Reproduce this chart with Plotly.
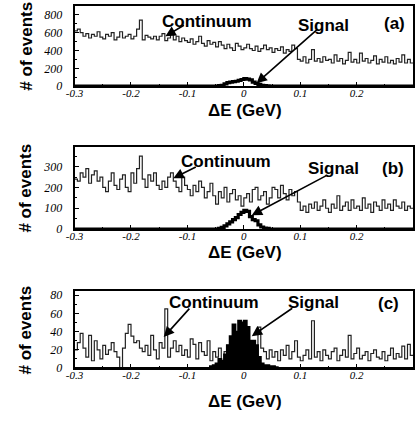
import numpy as np
import plotly.graph_objects as go

# ---------------- data ----------------
bin_start = -0.3
bin_width = 0.005

cont_a = [620, 640, 600, 560, 590, 540, 580, 560, 610, 550,
          530, 580, 560, 600, 520, 550, 610, 540, 560, 580,
          530, 560, 640, 740, 520, 570, 550, 530, 560, 520,
          560, 590, 510, 540, 580, 520, 560, 500, 540, 510,
          490, 530, 470, 500, 560, 480, 450, 510, 470, 490,
          440, 500, 460, 420, 470, 430, 400, 480, 450, 410,
          430, 470, 420, 400, 450, 390, 420, 460, 410, 430,
          380, 420, 400, 440, 370, 410, 390, 460, 420, 300,
          280, 330, 260, 300, 410, 280, 310, 270, 330, 290,
          300, 260, 350, 280, 310, 250, 290, 380, 270, 300,
          260, 370, 280, 310, 260, 290, 340, 250, 300, 270,
          330, 260, 290, 250, 310, 270, 350, 260, 300, 260]

cont_b = [240, 230, 270, 250, 290, 220, 260, 280, 230, 250,
          200, 180, 230, 270, 210, 190, 240, 260, 200, 180,
          270, 220, 290, 350, 240, 200, 260, 230, 270, 210,
          190, 230, 200, 250, 270, 230, 200, 180, 250, 210,
          190, 160, 210, 180, 230, 200, 150, 180, 220, 160,
          120, 180, 150, 200, 130, 170, 190, 140, 160, 110,
          150, 170, 130, 190, 200, 140, 160, 180, 120, 150,
          200, 190, 150, 210, 170, 140, 190, 160, 180, 130,
          90, 110, 80, 120, 100, 130, 90, 110, 140, 100,
          80, 120, 100, 160, 90, 110, 130, 90, 140, 100,
          110, 90, 150, 100, 120, 80, 130, 110, 90, 140,
          100, 120, 90, 140, 110, 100, 130, 90, 110, 100]

cont_c = [20, 28, 38, 22, 12, 36, 8, 30, 20, 10,
          25, 15, 20, 28, 18, 12, 0, 22, 38, 48,
          35, 28, 30, 22, 18, 25, 14, 36, 20, 10,
          28, 22, 65, 12, 22, 30, 18, 25, 14, 20,
          12, 32, 26, 10, 28, 18, 14, 30, 8, 18,
          12, 22, 8, 18, 25, 15, 20, 12, 5, 10,
          18, 8, 22, 30, 12, 45, 22, 18, 10, 20,
          12, 18, 8, 20, 14, 25, 10, 18, 30, 12,
          8, 14, 20, 10, 52, 12, 18, 8, 20, 14,
          10, 18, 22, 8, 14, 20, 12, 36, 10, 16,
          22, 10, 14, 18, 8, 16, 20, 12, 10, 18,
          8, 14, 22, 10, 16, 12, 24, 10, 26, 14]

sig_a_start = -0.05
sig_a = [0, 5, 10, 25, 40, 45, 50, 55, 65, 75,
         85, 80, 70, 45, 30, 20, 10, 5, 3, 0]

sig_b_start = -0.05
sig_b = [0, 3, 8, 15, 25, 35, 45, 55, 70, 80,
         90, 85, 60, 45, 40, 20, 10, 5, 3, 0]

sig_c_start = -0.06
sig_c = [2, 3, 5, 10, 8, 15, 25, 35, 48, 40,
         52, 50, 52, 45, 30, 30, 25, 12, 5, 3,
         3, 2, 2, 1]

x_tickvals = [-0.3, -0.2, -0.1, 0, 0.1, 0.2, 0.3]
x_ticktext = ["-0.3", "-0.2", "-0.1", "0", "0.1", "0.2", "0.3"]
y_ticks_a = [0, 200, 400, 600, 800]
y_ticks_b = [0, 100, 200, 300]
y_ticks_c = [0, 20, 40, 60, 80]
y_range_a = [0, 900]
y_range_b = [0, 395]
y_range_c = [0, 85]
panel_labels = ["(a)", "(b)", "(c)"]

# ---------------- helpers ----------------
n_bins = len(cont_a)


def step_xy(vals, start):
    x = start + bin_width * np.arange(len(vals) + 1)
    y = list(vals) + [vals[-1]]
    return x, y


def full_signal(vals, start):
    full = np.zeros(n_bins)
    i0 = int(round((start - bin_start) / bin_width))
    full[i0:i0 + len(vals)] = vals
    return full


def ital(labels):
    return [f"<i>{t}</i>" for t in labels]


W, H = 419, 423
xdom = [67 / W, 413 / W]
ydoms = [[1 - 86 / H, 1 - 4 / H], [1 - 232 / H, 1 - 148 / H], [1 - 374 / H, 1 - 295 / H]]

fig = go.Figure()

conts = [cont_a, cont_b, cont_c]
sigs = [(sig_a, sig_a_start), (sig_b, sig_b_start), (sig_c, sig_c_start)]
for k in range(3):
    xs = "x" if k == 0 else f"x{k+1}"
    ys = "y" if k == 0 else f"y{k+1}"
    cx, cy = step_xy(conts[k], bin_start)
    fig.add_trace(go.Scatter(x=cx, y=cy, mode="lines", line=dict(shape="hv", color="#222", width=1.2),
                             xaxis=xs, yaxis=ys, showlegend=False, hoverinfo="skip"))
    sv, s0 = sigs[k]
    sx, sy = step_xy(full_signal(sv, s0), bin_start)
    if k == 2:
        fig.add_trace(go.Scatter(x=sx, y=sy, mode="lines", line=dict(shape="hv", color="black", width=2),
                                 fill="tozeroy", fillcolor="black",
                                 xaxis=xs, yaxis=ys, showlegend=False, hoverinfo="skip"))
    else:
        fig.add_trace(go.Scatter(x=sx, y=sy, mode="lines", line=dict(shape="hv", color="black", width=3.2),
                                 xaxis=xs, yaxis=ys, showlegend=False, hoverinfo="skip"))

yticks = [y_ticks_a, y_ticks_b, y_ticks_c]
yranges = [y_range_a, y_range_b, y_range_c]
layout = dict(width=W, height=H, margin=dict(l=0, r=0, t=0, b=0),
              paper_bgcolor="white", plot_bgcolor="white", showlegend=False,
              font=dict(family="Liberation Sans", color="black"))
for k in range(3):
    xn = "xaxis" if k == 0 else f"xaxis{k+1}"
    yn = "yaxis" if k == 0 else f"yaxis{k+1}"
    ya = "y" if k == 0 else f"y{k+1}"
    xa = "x" if k == 0 else f"x{k+1}"
    layout[xn] = dict(domain=xdom, anchor=ya, range=[-0.3, 0.3],
                      tickvals=x_tickvals, ticktext=ital(x_ticktext), ticklabelstandoff=-4,
                      minor=dict(ticks="inside", ticklen=2, dtick=0.05, tickcolor="black"))
    layout[yn] = dict(domain=ydoms[k], anchor=xa, range=yranges[k],
                      tickvals=yticks[k], ticktext=ital([str(v) for v in yticks[k]]),
                      ticklabelstandoff=8,
                      minor=dict(ticks="inside", ticklen=2, tickcolor="black",
                                 dtick=(yticks[k][1] - yticks[k][0]) / 2))
fig.update_layout(**layout)
fig.update_xaxes(showline=True, linecolor="black", linewidth=2, mirror=True, ticks="inside",
                 ticklen=4, tickcolor="black", tickwidth=1, showgrid=False, zeroline=False,
                 tickfont=dict(family="Liberation Serif", size=11, color="black"))
fig.update_yaxes(showline=True, linecolor="black", linewidth=2, mirror=True, ticks="inside",
                 ticklen=4, tickcolor="black", tickwidth=1, showgrid=False, zeroline=False,
                 tickfont=dict(family="Liberation Serif", size=12, color="black"))

lab = dict(family="Liberation Sans", size=17, color="black")


def P(px, py):
    return px / W, 1 - py / H


anns = []
text_pos = [
    [("Continuum", 202, 20), ("Signal", 321, 24), (panel_labels[0], 394, 22)],
    [("Continuum", 222, 163), ("Signal", 332, 170), (panel_labels[1], 392, 170)],
    [("Continuum", 210, 307), ("Signal", 311, 307), (panel_labels[2], 388, 308)],
]
for k in range(3):
    for t, px, py in text_pos[k]:
        x, y = P(px, py)
        anns.append(dict(text=f"<b>{t}</b>", x=x, y=y, xref="paper", yref="paper",
                         showarrow=False, font=lab, xanchor="center", yanchor="middle"))
for py in [111, 256, 408]:
    x, y = P(241, py)
    anns.append(dict(text="<b>ΔE (GeV)</b>", x=x, y=y, xref="paper", yref="paper",
                     showarrow=False, font=lab, xanchor="center", yanchor="middle"))
for py in [45, 190, 335]:
    x, y = P(17, py)
    anns.append(dict(text="<b># of events</b>", x=x, y=y, xref="paper", yref="paper",
                     showarrow=False, font=lab, textangle=-90, xanchor="center", yanchor="middle"))

# arrows: head in data coordinates, tail as pixel offsets
arrows = [
    ("x", "y", -0.139, 559, 20, -12),
    ("x", "y", 0.0225, 33, 62, -55),
    ("x2", "y2", -0.125, 244, 24, -12),
    ("x2", "y2", 0.014, 66, 77, -41),
    ("x3", "y3", -0.142, 34, 27, -30),
    ("x3", "y3", 0.014, 35, 42, -29),
]
for xr, yr, hx, hy, ax, ay in arrows:
    anns.append(dict(x=hx, y=hy, xref=xr, yref=yr, ax=ax, ay=ay, text="", showarrow=True,
                     arrowhead=2, arrowsize=1.3, arrowwidth=1.6, arrowcolor="black"))
fig.update_layout(annotations=anns)

fig.write_html("out.html", config={"displayModeBar": False},
               post_script="document.body.style.margin='0';document.body.style.overflow='hidden';")
